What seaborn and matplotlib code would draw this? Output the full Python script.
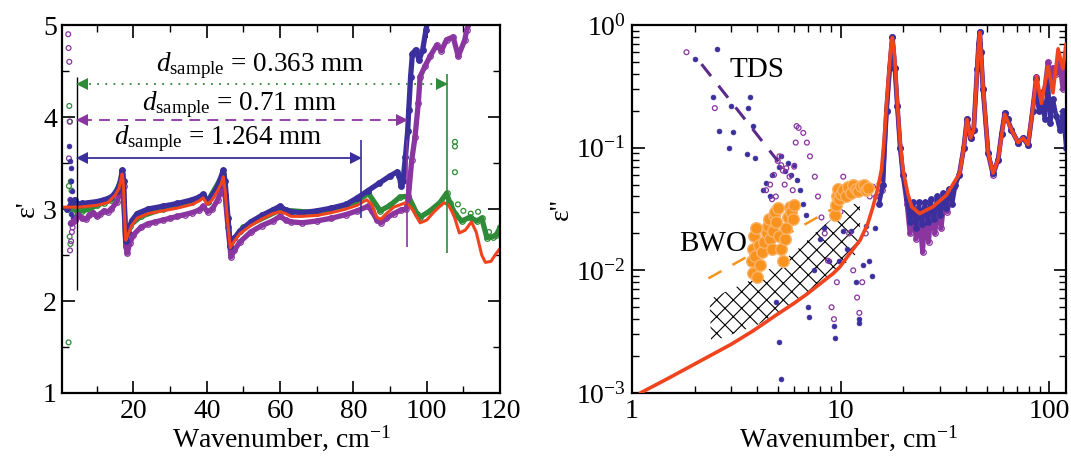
import numpy as np
import pandas as pd
import seaborn as sns
import matplotlib.pyplot as plt
from matplotlib.ticker import MultipleLocator, FixedLocator, FixedFormatter, LogLocator, NullFormatter

# ---------------- left panel: eps' ----------------
red_l_x = [0.6, 5, 10, 13, 15, 16, 16.5, 16.9, 17.2, 17.5, 17.9, 18.5, 19.5, 21, 24, 28, 32, 36, 38, 39,
           40.2, 41.5, 43, 44, 44.5, 45, 45.6, 46.4, 47.5, 49, 52, 55, 58, 60, 61.5, 63, 66, 70, 74, 78,
           81, 83.6, 85, 86.4, 87.5, 89, 91, 94.4, 96, 98.2, 100, 102, 104.7, 106, 107.5, 108.9, 110.5,
           112.2, 113.5, 115, 116, 117.5, 119, 120]
red_l_y = [3.02, 3.02, 3.04, 3.07, 3.15, 3.22, 3.3, 3.38, 3.3, 3.0, 2.66, 2.72, 2.82, 2.9, 2.95, 2.98, 3.01,
           3.05, 3.09, 3.12, 3.05, 3.1, 3.2, 3.28, 3.35, 3.2, 2.9, 2.58, 2.65, 2.73, 2.82, 2.89, 2.95, 2.97,
           2.95, 2.92, 2.92, 2.93, 2.96, 3.0, 3.04, 3.1, 3.05, 2.91, 2.89, 2.95, 3.02, 3.07, 3.0, 2.85,
           2.88, 2.97, 3.07, 3.04, 2.92, 2.74, 2.77, 2.86, 2.75, 2.5, 2.42, 2.43, 2.52, 2.57]

blue_l_x = [2, 3, 4, 5, 6, 8, 10, 12, 14, 15.5, 16.5, 16.9, 17.3, 17.9, 18.5, 19.5, 21, 24, 28, 32, 36, 38,
            39, 40.2, 41.5, 43, 44.5, 45, 45.8, 46.4, 47.5, 49, 52, 55, 58, 60, 61.5, 63, 66, 70, 74, 78,
            81, 84, 87, 90, 91.8, 92.5, 93, 93.5, 94.2, 94.8, 95.1, 95.6, 96.1, 97, 97.9, 98.9, 99.8, 100.3]
blue_l_y = [3.0, 3.05, 3.1, 3.05, 3.06, 3.07, 3.08, 3.1, 3.13, 3.2, 3.3, 3.42, 3.3, 2.65, 2.75, 2.87, 2.95,
            3.0, 3.03, 3.06, 3.1, 3.13, 3.16, 3.09, 3.15, 3.25, 3.42, 3.3, 2.9, 2.6, 2.68, 2.76, 2.86, 2.93,
            2.99, 3.03, 2.99, 2.97, 2.96, 2.98, 3.01, 3.05, 3.12, 3.2, 3.28, 3.36, 3.40, 3.36, 3.25, 3.3,
            3.57, 3.85, 4.08, 4.44, 4.69, 4.73, 4.62, 4.73, 4.95, 5.05]

purple_l_x = [3, 4, 5, 6, 7, 8, 9, 10, 11, 12, 13, 14, 15.5, 16.5, 16.9, 17.3, 17.9, 18.3, 19, 20, 22, 24,
              26, 28, 30, 32, 34, 36, 38, 39, 40.2, 41.5, 43, 44.5, 45, 45.8, 46.6, 47.5, 49, 52, 55, 58,
              60, 61.5, 63, 66, 70, 74, 78, 81, 84, 85, 86.4, 87.5, 89, 91, 93, 94.4, 95, 95.9, 96.8, 97.7,
              98.2, 99.5, 100.9, 102.7, 104, 105.4, 107.2, 108.6, 110.4, 110.9, 112]
purple_l_y = [2.85, 2.88, 2.93, 2.9, 2.89, 2.93, 2.96, 2.92, 2.95, 2.98, 2.97, 3.0, 3.08, 3.2, 3.35, 3.25,
              2.6, 2.52, 2.63, 2.72, 2.8, 2.84, 2.86, 2.88, 2.9, 2.92, 2.94, 2.96, 2.99, 3.03, 2.97, 3.0,
              3.1, 3.27, 3.15, 2.8, 2.48, 2.55, 2.64, 2.75, 2.82, 2.87, 2.92, 2.88, 2.86, 2.85, 2.87, 2.9,
              2.94, 2.98, 3.03, 2.98, 2.88, 2.85, 2.9, 2.95, 2.99, 3.0, 3.13, 3.53, 3.78, 4.15, 4.44, 4.55,
              4.66, 4.78, 4.72, 4.84, 4.87, 4.66, 4.84, 4.95, 5.05]

green_l_x = [2, 4, 6, 8, 10, 12, 14, 16, 16.9, 17.9, 19, 22, 28, 36, 39, 40.2, 44.5, 46.4, 50, 60, 70, 80,
             84.1, 87.3, 90, 92.7, 95, 97.3, 98.2, 100.9, 103.6, 105.4, 106.3, 107.7, 109.5, 111.8, 113.6,
             115, 116.4, 118, 119, 120]
green_l_y = [3.0, 3.0, 2.98, 3.0, 3.04, 3.07, 3.1, 3.25, 3.38, 2.66, 2.82, 2.92, 3.0, 3.08, 3.14, 3.08,
             3.38, 2.62, 2.8, 2.99, 2.96, 3.06, 3.17, 2.98, 3.04, 3.13, 3.14, 2.95, 2.91, 2.98, 3.07, 3.17,
             3.07, 2.95, 2.87, 2.91, 2.87, 2.9, 2.69, 2.7, 2.72, 2.8]

# noisy points below ~5 cm-1 and above the validity limit
blue_nz_x = [2.5, 2.7, 2.9, 3.1, 3.3, 2.6, 3.0, 3.5, 4.0, 2.8]
blue_nz_y = [3.68, 3.52, 3.45, 3.3, 3.2, 2.85, 2.95, 2.9, 3.0, 3.1]
purple_nz_x = [2.2, 2.3, 2.5, 2.6, 2.4, 2.7, 3.0, 3.2, 3.4, 3.6, 2.8]
purple_nz_y = [4.9, 4.75, 4.6, 3.95, 3.55, 2.55, 2.65, 2.75, 2.8, 2.85, 3.1]
green_nz_x = [2.3, 2.5, 2.7, 2.9, 3.1, 3.3, 2.6, 2.8, 3.5, 2.4, 107.7, 107.7, 107.7, 108.5, 110, 112, 114, 117]
green_nz_y = [1.55, 4.12, 3.95, 3.3, 3.2, 3.05, 2.7, 2.62, 2.95, 3.25, 3.73, 3.68, 3.4, 3.05, 2.98, 2.95, 2.97, 2.75]

# validity range for every sample thickness
thick_labels = ['1.264', '0.71', '0.363']
valid_lo = 4.5
valid_hi = [82.0, 94.7, 105.5]
arrow_y = [3.55, 3.97, 4.36]
label_x = [43.2, 48.9, 54.7]
label_y = [3.76, 4.13, 4.56]
vline_lo = [2.9, 2.59, 2.52]
vline_hi = [3.75, 3.75, 4.47]

# ---------------- right panel: eps'' ----------------
red_r_x = [1.1, 1.5, 2.0, 3.0, 3.8, 5.0, 6.0, 6.9, 8.0, 9.2, 9.9, 11.0, 12.4, 13.5, 14.3, 15.0, 15.7, 16.2,
           16.6, 17.1, 17.4, 17.7, 18.0, 18.3, 18.7, 19.3, 19.9, 21.0, 21.9, 23.9, 27.7, 32.1, 37.2, 38.9,
           40.3, 41.9, 43.4, 45.1, 45.8, 46.4, 47.0, 48.1, 50.9, 53.7, 56.8, 61.1, 65.8, 70.8, 74.8, 79.0,
           83.0, 86.7, 91.6, 98.5, 104, 110, 116, 120]
red_r_y = [0.001, 0.00132, 0.00172, 0.0025, 0.0032, 0.0044, 0.0054, 0.0064, 0.0078, 0.0094, 0.0106, 0.0135,
           0.0176, 0.024, 0.033, 0.045, 0.066, 0.12, 0.23, 0.45, 0.65, 0.79, 0.65, 0.45, 0.23, 0.11, 0.066,
           0.042, 0.033, 0.029, 0.033, 0.041, 0.062, 0.10, 0.17, 0.12, 0.14, 0.44, 0.7, 0.87, 0.6, 0.32,
           0.091, 0.062, 0.08, 0.187, 0.14, 0.11, 0.12, 0.106, 0.2, 0.38, 0.23, 0.46, 0.28, 0.64, 0.44, 0.7]

blue_tds_x = [2.01, 2.55, 2.44, 2.62, 2.99, 3.04, 2.93, 3.55, 3.62, 3.68, 3.79, 3.9, 4.25, 4.4, 4.6, 4.7,
              5.1, 5.2, 5.4, 5.6, 5.8, 6.0, 6.2, 6.4, 6.6, 6.8, 5.1, 5.2, 4.9, 7.0, 7.1]
blue_tds_y = [0.53, 0.64, 0.26, 0.136, 0.22, 0.134, 0.10, 0.088, 0.21, 0.26, 0.15, 0.082, 0.045, 0.052,
              0.04, 0.06, 0.07, 0.085, 0.065, 0.075, 0.06, 0.072, 0.055, 0.045, 0.035, 0.028, 0.0026,
              0.0013, 0.0055, 0.005, 0.0042]
blue_osc_x = [7.5, 8.0, 8.3, 8.8, 9.3, 9.4, 9.8, 10.3, 10.7, 11.2, 11.8, 12.2, 12.3, 12.8, 13.2, 13.7,
              14.2, 14.6, 15.3]
blue_osc_y = [0.010, 0.018, 0.022, 0.012, 0.0035, 0.0028, 0.012, 0.021, 0.015, 0.021, 0.008, 0.004,
              0.0037, 0.011, 0.023, 0.012, 0.009, 0.022, 0.035]
blue_band_x = [15.3, 16.0, 16.6, 17.2, 17.7, 18.2, 18.7, 19.3, 19.9, 20.8, 21.5, 22.2, 23.0, 23.7, 24.5,
               25.3, 26.2, 27.0, 28.0, 29.0, 30.0, 31.0, 32.0, 33.0, 34.3, 35.5, 37.0, 38.9, 40.3, 41.9,
               43.4, 45.1, 45.8, 46.4, 47.0, 48.1, 50.9, 53.7, 56.8, 59.0, 61.1, 63.0, 65.8, 70.8, 74.8,
               79.0, 83.0, 86.7, 89.0, 91.6, 95.0, 98.5, 101, 104, 108, 112, 116, 120]
blue_band_y = [0.035, 0.05, 0.2, 0.45, 0.8, 0.45, 0.22, 0.1, 0.06, 0.038, 0.025, 0.036, 0.022, 0.036,
               0.024, 0.036, 0.025, 0.038, 0.026, 0.040, 0.028, 0.043, 0.032, 0.046, 0.035, 0.05, 0.06,
               0.1, 0.17, 0.12, 0.14, 0.44, 0.7, 0.87, 0.6, 0.3, 0.09, 0.062, 0.08, 0.13, 0.19, 0.17,
               0.14, 0.11, 0.12, 0.105, 0.2, 0.36, 0.2, 0.24, 0.17, 0.35, 0.16, 0.25, 0.18, 0.14, 0.2, 0.1]

purple_tds_x = [1.83, 2.5, 4.4, 4.6, 4.8, 5.0, 5.1, 5.2, 5.3, 5.5, 5.7, 4.7, 4.9, 5.4, 5.9, 6.0, 6.1,
                6.16, 6.3, 6.63, 6.9, 7.14, 7.53, 7.8, 8.1, 8.4]
purple_tds_y = [0.6, 0.21, 0.045, 0.05, 0.06, 0.078, 0.085, 0.072, 0.065, 0.068, 0.058, 0.038, 0.04, 0.05,
                0.045, 0.07, 0.11, 0.15, 0.145, 0.132, 0.11, 0.085, 0.058, 0.04, 0.027, 0.02]
purple_osc_x = [8.7, 9.06, 9.3, 9.6, 10.0, 10.3, 10.6, 11.0, 11.5, 12.0, 12.3, 12.7, 13.2, 13.8, 14.3,
                14.8, 15.3]
purple_osc_y = [0.012, 0.005, 0.004, 0.008, 0.03, 0.058, 0.04, 0.02, 0.01, 0.006, 0.0045, 0.008, 0.02,
                0.04, 0.048, 0.04, 0.04]
purple_band_x = [15.8, 16.6, 17.2, 17.7, 18.2, 18.7, 19.3, 19.9, 20.8, 21.5, 22.2, 23.0, 23.8, 24.7, 25.5,
                 26.4, 27.3, 28.3, 29.3, 30.3, 31.5, 32.5, 33.6, 35.0, 37.0, 38.9, 40.3, 41.9, 43.4, 45.1,
                 45.8, 46.4, 47.0, 48.1, 50.9, 53.7, 56.8, 59, 61.1, 63, 65.8, 70.8, 74.8, 79.0, 83, 86.7,
                 89.0, 91.6, 95.0, 98.5, 101, 104, 108, 112, 116, 120]
purple_band_y = [0.045, 0.2, 0.45, 0.8, 0.45, 0.22, 0.1, 0.06, 0.035, 0.02, 0.032, 0.018, 0.03, 0.014,
                 0.03, 0.017, 0.033, 0.02, 0.036, 0.022, 0.04, 0.03, 0.045, 0.048, 0.06, 0.1, 0.17, 0.12,
                 0.14, 0.44, 0.7, 0.87, 0.6, 0.3, 0.09, 0.06, 0.08, 0.13, 0.19, 0.17, 0.14, 0.11, 0.12,
                 0.105, 0.2, 0.38, 0.22, 0.28, 0.3, 0.5, 0.35, 0.45, 0.4, 0.5, 0.3, 0.45]

bwo_x = [3.75, 3.8, 3.85, 3.9, 3.8, 3.95, 4.05, 4.1, 4.0, 4.2, 4.3, 4.43, 4.5, 4.55, 4.6, 4.7, 4.75, 4.8,
         4.85, 4.9, 5.0, 5.1, 5.2, 5.3, 5.4, 5.5, 5.6, 5.7, 5.8, 5.9, 6.0, 9.4, 9.5, 9.6, 9.7, 9.8, 10.0,
         10.3, 10.6, 10.9, 11.2, 11.5, 11.8, 12.1, 12.5, 12.9, 13.3, 13.6]
bwo_y = [0.012, 0.015, 0.019, 0.013, 0.0095, 0.022, 0.016, 0.011, 0.0088, 0.014, 0.017, 0.02, 0.023,
         0.026, 0.018, 0.015, 0.021, 0.028, 0.03, 0.025, 0.032, 0.019, 0.015, 0.012, 0.018, 0.022, 0.027,
         0.033, 0.03, 0.026, 0.034, 0.028, 0.034, 0.04, 0.046, 0.038, 0.042, 0.045, 0.04, 0.048, 0.043,
         0.05, 0.046, 0.044, 0.049, 0.05, 0.045, 0.047]

tds_fit_x = [2.16, 5.03]
tds_fit_y = [0.48, 0.077]
bwo_fit_x = [2.33, 15.7]
bwo_fit_y = [0.0086, 0.053]
hatch_x = [2.36, 4.0, 6.0, 8.0, 10.0, 12.4, 12.4, 10.0, 8.0, 6.0, 4.0, 2.4]
hatch_y = [0.0058, 0.0088, 0.014, 0.022, 0.030, 0.037, 0.0145, 0.0105, 0.0075, 0.0053, 0.0036, 0.0026]

C_BLUE = '#3a2f9c'
C_PURPLE = '#8a35a0'
C_GREEN = '#2e8b37'
C_RED = '#f0441f'
C_ORANGE = '#f7931e'
C_TDS = '#5b2a8c'

sns.set_theme(style='ticks')
plt.rcParams['font.family'] = ['Liberation Serif', 'DejaVu Serif']
plt.rcParams['mathtext.fontset'] = 'custom'
plt.rcParams['mathtext.rm'] = 'Liberation Serif'
plt.rcParams['mathtext.it'] = 'Liberation Serif:italic'
plt.rcParams['hatch.linewidth'] = 0.8
plt.rcParams['text.color'] = 'black'
plt.rcParams['axes.labelcolor'] = 'black'
FS = 20

fig = plt.figure(figsize=(10.71, 4.59), dpi=100)
axl = fig.add_axes([0.0582, 0.1438, 0.4087, 0.8017])
axr = fig.add_axes([0.5898, 0.1438, 0.4055, 0.8017])


def band(ax, x, y, color, open_marker, lw=3.8):
    sns.lineplot(x=x, y=y, ax=ax, color=color, lw=lw, estimator=None, sort=False,
                 marker='o', markersize=4, markeredgewidth=0.9,
                 markerfacecolor='none' if open_marker else color, markeredgecolor=color)


def dots(ax, x, y, color, open_marker, size=12):
    if open_marker:
        sns.scatterplot(x=x, y=y, ax=ax, s=size, facecolor='none', edgecolor=color, linewidth=0.9)
    else:
        sns.scatterplot(x=x, y=y, ax=ax, s=size, color=color, edgecolor=color, linewidth=0.5)


# ---- left ----
band(axl, green_l_x, green_l_y, C_GREEN, True)
band(axl, purple_l_x, purple_l_y, C_PURPLE, True)
band(axl, blue_l_x, blue_l_y, C_BLUE, False)
dots(axl, green_nz_x, green_nz_y, C_GREEN, True)
dots(axl, purple_nz_x, purple_nz_y, C_PURPLE, True)
dots(axl, blue_nz_x, blue_nz_y, C_BLUE, False)
sns.lineplot(x=red_l_x, y=red_l_y, ax=axl, color=C_RED, lw=2.2, estimator=None, sort=False)

line_colors = [C_BLUE, C_PURPLE, C_GREEN]
line_styles = ['-', (0, (6, 4)), (0, (1, 3.5))]
axl.vlines(valid_lo, 2.12, 4.44, color='black', lw=1.0)
for i in range(3):
    c = line_colors[i]
    axl.vlines(valid_hi[i], vline_lo[i], vline_hi[i], color=c, lw=1.2)
    axl.plot([valid_lo + 1.2, valid_hi[i] - 1.2], [arrow_y[i]] * 2, color=c, lw=1.3, ls=line_styles[i])
    axl.plot([valid_lo + 1.4], [arrow_y[i]], marker='<', color=c, ms=8, mew=0)
    axl.plot([valid_hi[i] - 1.4], [arrow_y[i]], marker='>', color=c, ms=8, mew=0)
    axl.text(label_x[i], label_y[i], r'$d_{\mathrm{sample}}$ = ' + thick_labels[i] + ' mm',
             ha='center', va='center', fontsize=FS - 0.5)

axl.set_xlim(0.6, 120)
axl.set_ylim(1, 5)
axl.xaxis.set_major_locator(FixedLocator([20, 40, 60, 80, 100, 120]))
axl.xaxis.set_minor_locator(MultipleLocator(10))
axl.yaxis.set_major_locator(MultipleLocator(1))
axl.yaxis.set_minor_locator(MultipleLocator(0.5))
axl.set_xlabel('Wavenumber, cm$^{-1}$', fontsize=FS, labelpad=0)
axl.set_ylabel("ε'", fontsize=FS, labelpad=2)

# ---- right ----
axr.set_xscale('log')
axr.set_yscale('log')
axr.fill(hatch_x, hatch_y, facecolor='none', edgecolor='black', hatch='xx', lw=0)
dots(axr, blue_tds_x, blue_tds_y, C_BLUE, False)
dots(axr, blue_osc_x, blue_osc_y, C_BLUE, False)
dots(axr, purple_tds_x, purple_tds_y, C_PURPLE, True)
dots(axr, purple_osc_x, purple_osc_y, C_PURPLE, True)
band(axr, purple_band_x, purple_band_y, C_PURPLE, True, lw=3.5)
band(axr, blue_band_x, blue_band_y, C_BLUE, False, lw=3.0)
sns.lineplot(x=tds_fit_x, y=tds_fit_y, ax=axr, color=C_TDS, lw=2.2, ls=(0, (5, 4)), estimator=None)
sns.lineplot(x=bwo_fit_x, y=bwo_fit_y, ax=axr, color=C_ORANGE, lw=1.8, ls=(0, (6, 5)), estimator=None)
sns.scatterplot(x=bwo_x, y=bwo_y, ax=axr, s=70, color=C_ORANGE, edgecolor='#fbb36a', linewidth=1.0, zorder=4)
sns.lineplot(x=red_r_x, y=red_r_y, ax=axr, color=C_RED, lw=2.6, estimator=None, sort=False, zorder=5)
axr.text(3.98, 0.43, 'TDS', fontsize=FS + 1, ha='center', va='center')
axr.text(2.45, 0.0163, 'BWO', fontsize=FS + 1, ha='center', va='center')

axr.set_xlim(1, 120)
axr.set_ylim(1e-3, 1)
axr.xaxis.set_major_locator(FixedLocator([1, 10, 100]))
axr.xaxis.set_major_formatter(FixedFormatter(['1', '10', '100']))
axr.xaxis.set_minor_locator(LogLocator(base=10, subs=np.arange(2, 10)))
axr.xaxis.set_minor_formatter(NullFormatter())
axr.yaxis.set_major_locator(FixedLocator([1e-3, 1e-2, 1e-1, 1]))
axr.yaxis.set_major_formatter(FixedFormatter(['10$^{-3}$', '10$^{-2}$', '10$^{-1}$', '10$^{0}$']))
axr.yaxis.set_minor_locator(LogLocator(base=10, subs=np.arange(2, 10)))
axr.yaxis.set_minor_formatter(NullFormatter())
axr.set_xlabel('Wavenumber, cm$^{-1}$', fontsize=FS, labelpad=0)
axr.set_ylabel("ε''", fontsize=FS, labelpad=2)

for ax in (axl, axr):
    ax.tick_params(which='both', direction='in', top=True, right=True, labelsize=FS,
                   colors='black', labelcolor='black')
    ax.tick_params(which='major', length=9, width=1.2, pad=4)
    ax.tick_params(which='minor', length=5, width=1.0)
    for s in ax.spines.values():
        s.set_linewidth(1.6)
        s.set_color('black')

fig.savefig('out.png', dpi=100)
